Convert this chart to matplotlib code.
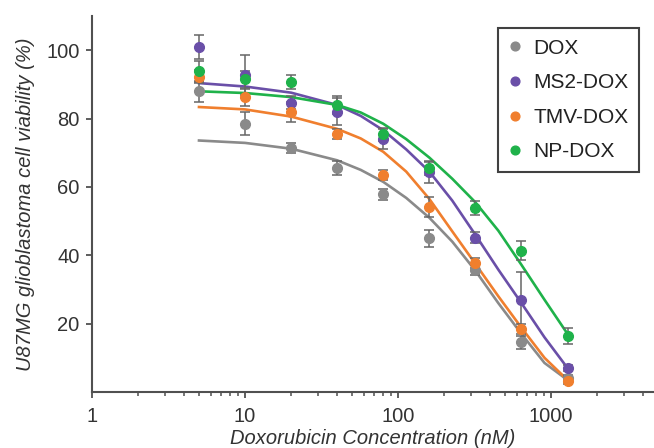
import matplotlib
matplotlib.use("Agg")
import matplotlib.pyplot as plt
import numpy as np

plt.rcParams['font.family'] = ['Liberation Sans', 'DejaVu Sans']

# measured points (nM, % viability)
doses = [5, 10, 20, 40, 80, 160, 320, 640, 1280]
dox = [88, 78.5, 71.3, 65.5, 57.8, 45, 35.7, 14.5, 4]
dox_err = [3, 3.4, 1.5, 2, 1.5, 2.5, 1.5, 2, 1]
ms2 = [101, 92.8, 84.7, 82, 74, 64.3, 45.2, 27, 7]
ms2_err = [3.5, 5.8, 2, 4, 3, 3, 1.5, 8, 1]
tmv = [92.3, 86.3, 82, 75.4, 63.5, 54.2, 37.8, 18.5, 3.3]
tmv_err = [2, 2.5, 3, 1.5, 1.5, 3, 1.5, 1.5, 1]
np_dox = [93.8, 91.5, 90.8, 84, 75.4, 65.5, 53.8, 41.3, 16.3]
np_err = [3, 2.5, 2, 2.5, 2, 2, 2, 2.8, 2.3]

# fitted curves
fit_x = [5, 10, 20, 40, 57, 80, 113, 160, 226, 320, 452, 640, 905, 1280]
dox_fit = [73.6, 72.9, 71.2, 67.8, 65, 61.5, 56.8, 51, 44, 35.5, 26, 17, 8.5, 3.5]
ms2_fit = [90.4, 89.4, 87.6, 84, 80.8, 76.6, 71, 64.5, 56, 46, 35.8, 26, 16, 7]
tmv_fit = [83.4, 82.7, 80.6, 77, 74.2, 70.3, 64.5, 56.5, 47, 37.5, 28, 18.8, 10, 3.5]
np_fit = [88, 87.5, 86.3, 84, 81.8, 78.5, 74, 68.6, 62.4, 55.5, 47.2, 37.2, 27, 17]

names = ["DOX", "MS2-DOX", "TMV-DOX", "NP-DOX"]
colors = ["#8a8a8a", "#6a4fa8", "#f07f2e", "#1fb24a"]

fig = plt.figure(figsize=(6.54, 4.48), dpi=100)
ax = fig.add_axes([0.1407, 0.125, 0.8593, 0.839])

series = [(dox, dox_err, dox_fit), (ms2, ms2_err, ms2_fit),
          (tmv, tmv_err, tmv_fit), (np_dox, np_err, np_fit)]
handles = []
for i, (y, e, f) in enumerate(series):
    ax.plot(fit_x, f, color=colors[i], lw=1.9, zorder=2 + i * 0.1)
    ax.errorbar(doses, y, yerr=e, fmt='none', ecolor="#666666", elinewidth=1.1,
                capsize=3.5, capthick=1.1, zorder=3 + i * 0.1)
    h, = ax.plot(doses, y, 'o', color=colors[i], ms=7, mec=colors[i], zorder=4 + i * 0.1,
                 label=names[i])
    handles.append(h)

ax.set_xscale('log')
ax.set_xlim(1, 4700)
ax.set_ylim(0, 110)
ax.set_yticks([20, 40, 60, 80, 100])
ax.set_xticks([1, 10, 100, 1000])
ax.set_xticklabels(["1", "10", "100", "1000"])

for s in ['top', 'right']:
    ax.spines[s].set_visible(False)
for s in ['left', 'bottom']:
    ax.spines[s].set_color("#505050")
    ax.spines[s].set_linewidth(1.5)
ax.tick_params(axis='both', which='major', direction='out', length=4, width=1.3,
               color="#505050", labelsize=14.5, labelcolor="#333333")
ax.tick_params(axis='x', which='major', pad=7)
ax.tick_params(axis='y', which='major', pad=5)
ax.tick_params(axis='x', which='minor', direction='out', length=3, width=1.1, color="#505050")

ax.set_xlabel("Doxorubicin Concentration (nM)", fontsize=14.5, style='italic',
              color="#333333", labelpad=2)
ax.set_ylabel("U87MG glioblastoma cell viability (%)", fontsize=14.5, style='italic',
              color="#333333", labelpad=8)

leg = ax.legend(handles=handles, loc='upper right', bbox_to_anchor=(0.973, 0.968),
                borderaxespad=0, fontsize=15, frameon=True, fancybox=False,
                handlelength=0.6, handletextpad=0.6, labelspacing=0.75, borderpad=0.5,
                markerscale=0.9)
leg.get_frame().set_edgecolor("#111111")
leg.get_frame().set_linewidth(1.5)
for t in leg.get_texts():
    t.set_color("#222222")

fig.savefig("out.png", dpi=100)
